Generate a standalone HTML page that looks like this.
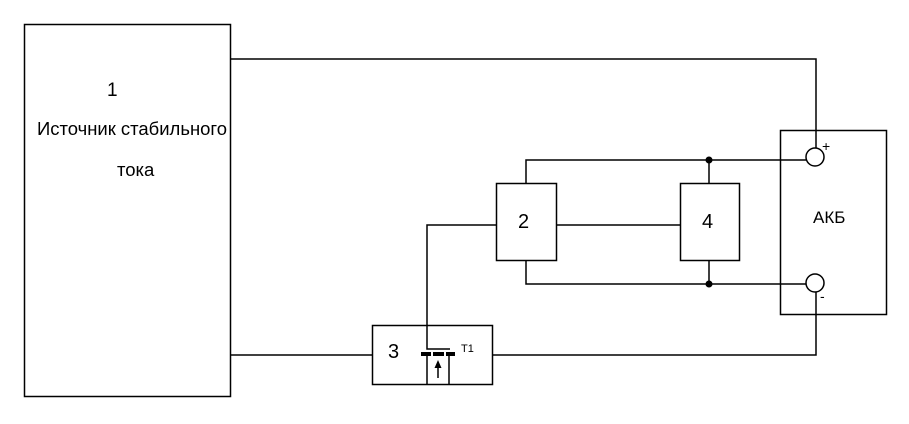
<!DOCTYPE html>
<html><head><meta charset="utf-8"><style>
body{margin:0;background:#fff}
svg text{font-family:"Liberation Sans",sans-serif;fill:#000}
</style></head><body>
<svg width="909" height="419" viewBox="0 0 909 419" xmlns="http://www.w3.org/2000/svg">
<g fill="none" stroke="#000" stroke-width="1.5">
<rect x="24.5" y="24.5" width="206" height="372"/>
<rect x="372.5" y="325.5" width="120" height="59"/>
<rect x="496.5" y="183.5" width="60" height="77"/>
<rect x="680.5" y="183.5" width="59" height="77"/>
<rect x="780.5" y="130.5" width="106" height="184"/>
<circle cx="815" cy="157" r="9"/>
<circle cx="815" cy="283" r="9"/>
<polyline points="230,59 816,59 816,148"/>
<polyline points="230,355 372,355"/>
<polyline points="492,355 816,355 816,292"/>
<polyline points="526,183 526,160 806,160"/>
<polyline points="526,260 526,284 806,284"/>
<line x1="709" y1="160" x2="709" y2="183"/>
<line x1="709" y1="260" x2="709" y2="284"/>
<line x1="556" y1="225" x2="680" y2="225"/>
<polyline points="496,225 427,225 427,349 450,349"/>
<line x1="427" y1="356" x2="427" y2="384"/>
<line x1="449" y1="356" x2="449" y2="384"/>
<line x1="438" y1="368" x2="438" y2="378"/>
</g>
<g fill="#000">
<rect x="421" y="352" width="10" height="4"/>
<rect x="433" y="352" width="11" height="4"/>
<rect x="446" y="352" width="9" height="4"/>
<polygon points="438,360 434.5,368 441.5,368"/>
<circle cx="709" cy="160" r="3.5"/>
<circle cx="709" cy="284" r="3.5"/>
</g>
<text x="107" y="96" font-size="19">1</text>
<text x="37" y="135" font-size="18.5" textLength="190" lengthAdjust="spacingAndGlyphs">Источник стабильного</text>
<text x="117" y="176" font-size="18.5">тока</text>
<text x="388" y="358" font-size="20">3</text>
<text x="461" y="352" font-size="11">T1</text>
<text x="518" y="228" font-size="20">2</text>
<text x="702" y="228" font-size="20">4</text>
<text x="813" y="223" font-size="17">АКБ</text>
<text x="822" y="151" font-size="14">+</text>
<text x="820" y="301" font-size="14">-</text>
</svg>
</body></html>
